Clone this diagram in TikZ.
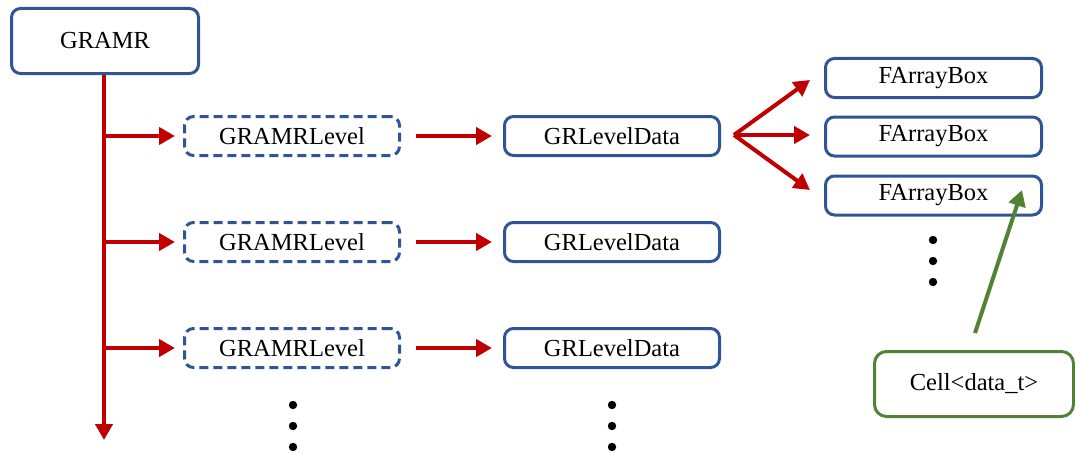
\documentclass[tikz,border=0pt]{standalone}
\usepackage{fontspec}
\setmainfont{Liberation Serif}
\usetikzlibrary{arrows.meta}
\definecolor{boxblue}{HTML}{2F5597}
\definecolor{linkred}{HTML}{C00000}
\definecolor{cellgreen}{HTML}{548235}
\tikzset{
  x=1pt, y=-1pt,
  every node/.style={font=\fontsize{24.5}{28}\selectfont, inner sep=0pt},
  classbox/.style={draw=boxblue, line width=3pt, rounded corners=9pt, fill=white},
  levelbox/.style={classbox, dash pattern=on 9pt off 5pt},
  cellbox/.style={draw=cellgreen, line width=3pt, rounded corners=12pt, fill=white},
  redlink/.style={draw=linkred, line width=4pt, -{Triangle[length=16pt,width=17pt]}},
  greenlink/.style={draw=cellgreen, line width=4pt, -{Triangle[length=16pt,width=17pt]}},
  dotmark/.style={fill=black},
}
\begin{document}
\begin{tikzpicture}
\useasboundingbox (0,0) rectangle (1075,452);

% root object
\node[classbox, minimum width=187pt, minimum height=65pt] (gramr) at (105,41) {GRAMR};

% levels and their data
\foreach \i/\y in {1/136,2/242,3/348}{
  \node[levelbox, minimum width=215pt, minimum height=39pt] (lvl\i) at (292,\y) {GRAMRLevel};
  \node[classbox, minimum width=215pt, minimum height=39pt] (dat\i) at (612,\y) {GRLevelData};
  \coordinate (t\i) at (104,\y);
}

% fab storage of the first level
\node[classbox, minimum width=216pt, minimum height=39pt] (fab1) at (933.5,78) {FArrayBox};
\node[classbox, minimum width=216pt, minimum height=39pt] (fab2) at (933.5,136.5) {FArrayBox};
\node[classbox, minimum width=216pt, minimum height=39pt] (fab3) at (933.5,195.5) {FArrayBox};

% cell type
\node[cellbox, minimum width=199pt, minimum height=65pt] (cell) at (974,384) {Cell<data\_t>};

% trunk from the root down
\coordinate (trunkend) at (104,440);
\draw[redlink] (gramr.south -| t1) -- (trunkend);

% branches to each level, then level to data
\foreach \i in {1,2,3}{
  \draw[redlink, shorten >=8pt] (t\i) -- (lvl\i.west);
  \draw[redlink, shorten <=15pt, shorten >=11pt] (lvl\i.east) -- (dat\i.west);
}

% fan out to the boxes
\coordinate (fan) at (734,135);
\coordinate (f1) at (810,80);
\coordinate (f2) at (810,135);
\coordinate (f3) at (810,190);
\draw[redlink] (fan) -- (f1);
\draw[redlink] (fan) -- (f2);
\draw[redlink] (fan) -- (f3);

% cell type stored in the boxes
\coordinate (g0) at (975,333);
\coordinate (g1) at (1022,190);
\draw[greenlink] (g0) -- (g1);

% continuation dots
\foreach \x/\y in {933/240, 293/405, 612/405}{
  \fill[dotmark] (\x,\y) circle (4.2pt);
  \fill[dotmark] (\x,\y+21) circle (4.2pt);
  \fill[dotmark] (\x,\y+42) circle (4.2pt);
}
\end{tikzpicture}
\end{document}
